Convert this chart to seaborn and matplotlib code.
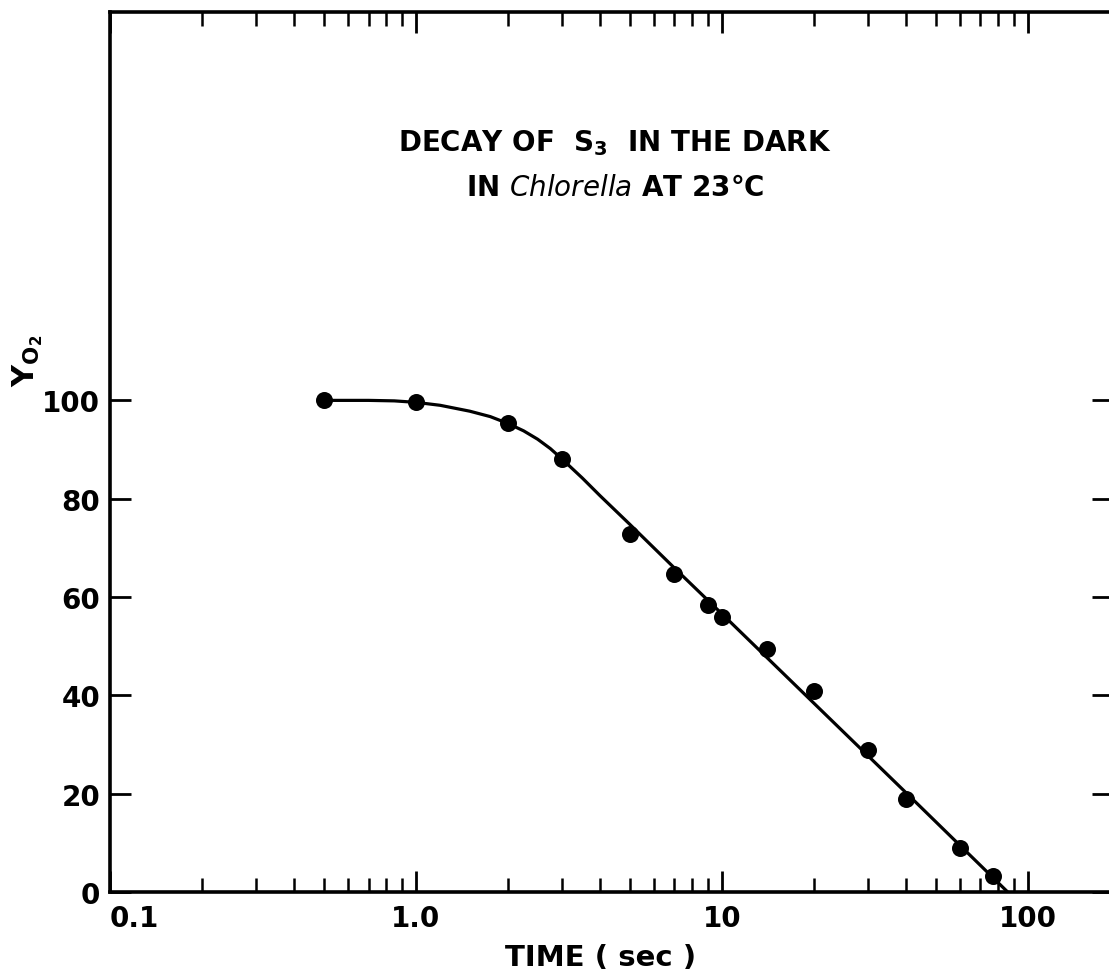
import matplotlib
matplotlib.use("Agg")
import matplotlib.pyplot as plt
import matplotlib.ticker as mticker
import seaborn as sns
import pandas as pd
import numpy as np

# measured points
time_s = [0.5, 1.0, 2.0, 3.0, 5.0, 7.0, 9.0, 10.0, 14.0, 20.0, 30.0, 40.0, 60.0, 77.0]
y_o2 = [100.0, 99.6, 95.3, 88.0, 72.9, 64.7, 58.3, 55.9, 49.4, 40.8, 28.9, 18.9, 8.9, 3.2]

# fitted curve
curve_t = [0.5, 0.7, 0.85, 1.0, 1.2, 1.5, 1.75, 2.0, 2.25, 2.5, 2.75, 3.0, 3.5,
           4.0, 5.0, 7.0, 10.0, 20.0, 40.0, 86.0]
curve_y = [100.0, 100.0, 99.9, 99.6, 99.0, 97.8, 96.7, 95.3, 93.8, 92.1, 90.2, 88.1, 84.2,
           80.6, 74.8, 65.9, 56.6, 38.4, 20.2, 0.0]

x_major = [0.1, 1.0, 10.0, 100.0]
x_major_labels = ["0.1", "1.0", "10", "100"]
y_major = [0, 20, 40, 60, 80, 100]
y_major_labels = ["0", "20", "40", "60", "80", "100"]

sns.set_theme(style="ticks")
plt.rcParams["font.family"] = ["DejaVu Sans"]
plt.rcParams["mathtext.default"] = "regular"

W, H = 1109, 979
fig = plt.figure(figsize=(W / 100, H / 100), dpi=100)
fig.patch.set_facecolor("white")
left_px, right_px, top_px, bottom_px = 110, 1113, 13, 893
ax = fig.add_axes([left_px / W, 1 - bottom_px / H, (right_px - left_px) / W, (bottom_px - top_px) / H])
ax.set_facecolor("white")

df_pts = pd.DataFrame({"t": time_s, "y": y_o2})
df_curve = pd.DataFrame({"t": curve_t, "y": curve_y})

sns.lineplot(data=df_curve, x="t", y="y", ax=ax, color="black", linewidth=2.3,
             sort=False, estimator=None)
sns.scatterplot(data=df_pts, x="t", y="y", ax=ax, color="black", s=150,
                edgecolor="black", linewidth=0, zorder=5)

ax.set_xscale("log")
ax.set_xlim(0.1, 190)
ax.set_ylim(0, 179)

ax.xaxis.set_major_locator(mticker.FixedLocator(x_major))
ax.xaxis.set_major_formatter(mticker.FixedFormatter(x_major_labels))
ax.xaxis.set_minor_locator(mticker.LogLocator(base=10, subs=np.arange(2, 10)))
ax.xaxis.set_minor_formatter(mticker.NullFormatter())
ax.yaxis.set_major_locator(mticker.FixedLocator(y_major))
ax.yaxis.set_major_formatter(mticker.FixedFormatter(y_major_labels))

for side in ["left", "right", "top", "bottom"]:
    ax.spines[side].set_visible(True)
    ax.spines[side].set_linewidth(2.6)
    ax.spines[side].set_color("black")

ax.tick_params(axis="both", which="major", direction="in", length=15, width=2.0,
               color="black", labelsize=20, labelcolor="black")
ax.tick_params(axis="x", which="major", top=True, bottom=True, pad=9)
ax.tick_params(axis="x", which="minor", direction="in", top=True, bottom=True,
               length=10, width=1.8, color="black")
ax.tick_params(axis="y", which="major", left=True, right=True, pad=7)
ax.tick_params(axis="y", which="minor", left=False, right=False)

for lab in ax.get_xticklabels() + ax.get_yticklabels():
    lab.set_fontweight("bold")
# first x label sits right of the tick in the original
labs = ax.get_xticklabels()
if labs:
    labs[0].set_horizontalalignment("left")

ax.set_xlabel("")
ax.set_ylabel("")
fig.text(601 / W, 1 - 958 / H, "TIME ( sec )", ha="center", va="center", fontsize=21,
         fontweight="bold", color="black")
fig.text(28 / W, 1 - 361 / H, r"$\mathbf{Y_{O_2}}$", ha="center", va="center", rotation=90,
         fontsize=22, color="black")

fig.text(615 / W, 1 - 143 / H, r"DECAY OF  S$_\mathbf{3}$  IN THE DARK", ha="center", va="center",
         fontsize=20, fontweight="bold", color="black")
fig.text(615 / W, 1 - 188 / H, r"IN $\mathbf{\mathit{Chlorella}}$ AT 23°C", ha="center", va="center",
         fontsize=20, fontweight="bold", color="black")

fig.savefig("out.png", dpi=100, facecolor="white")
